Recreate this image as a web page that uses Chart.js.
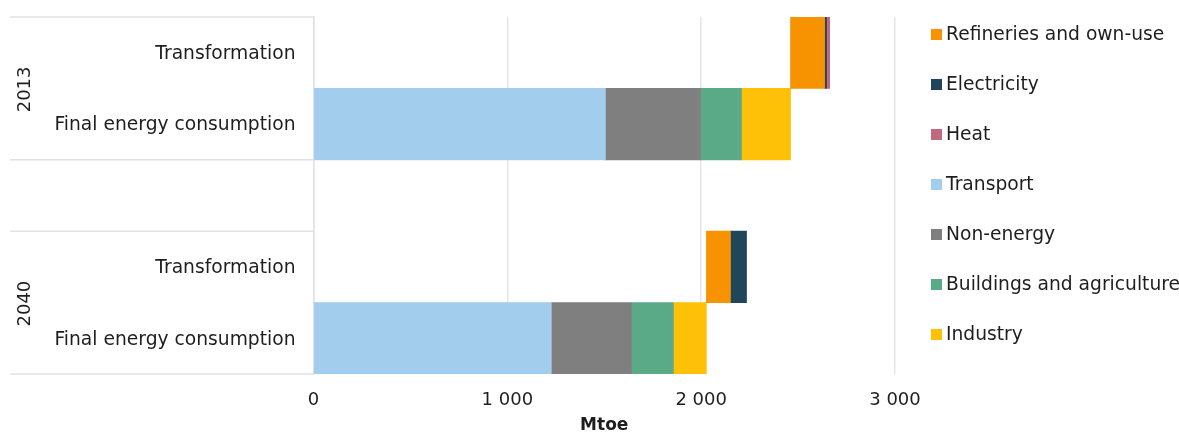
<!DOCTYPE html>
<html>
<head>
<meta charset="utf-8">
<script src="https://cdn.jsdelivr.net/npm/chart.js@4.4.1/dist/chart.umd.min.js"></script>
<style>
  html, body { margin: 0; padding: 0; background: #ffffff; }
  #wrap { position: relative; width: 1179px; height: 432px; }
</style>
</head>
<body>
<div id="wrap"><canvas id="c" width="1179" height="432"></canvas></div>
<script>
// ---- data ----
const categories = ['Transformation', 'Final energy consumption', '', 'Transformation', 'Final energy consumption'];
const groups = ['2013', '2040'];
const groupRows = [[0, 1], [3, 4]];
const xTicks = [0, 1000, 2000, 3000];

const refineries  = [176, 0, 0, 124, 0];
const electricity = [10, 0, 0, 83, 0];
const heat        = [16, 0, 0, 0, 0];
const transport   = [0, 1506, 0, 0, 1227];
const nonEnergy   = [0, 490, 0, 0, 413];
const buildings   = [0, 212, 0, 0, 217];
const industry    = [0, 253, 0, 0, 170];

// transformation bars start where final energy consumption of the same year ends
const base = categories.map((c, i) =>
  c === 'Transformation'
    ? transport[i + 1] + nonEnergy[i + 1] + buildings[i + 1] + industry[i + 1]
    : 0);

const FONT = 'DejaVu Sans, Verdana, sans-serif';
const TEXT = '#1e1e1e';
const LINE = '#e2e2e2';
const LABEL_SIZE = 18.7;

const separatorPlugin = {
  id: 'separators',
  afterDraw(chart) {
    const {ctx, chartArea} = chart;
    const y = chart.scales.y;
    const half = (y.getPixelForValue(1) - y.getPixelForValue(0)) / 2;
    ctx.save();
    ctx.strokeStyle = LINE;
    ctx.lineWidth = 1.5;
    groupRows.forEach((rows, g) => {
      const top = y.getPixelForValue(rows[0]) - half;
      const bot = y.getPixelForValue(rows[1]) + half;
      [top, bot].forEach(py => {
        ctx.beginPath();
        ctx.moveTo(10, py);
        ctx.lineTo(chartArea.left, py);
        ctx.stroke();
      });
      ctx.save();
      ctx.translate(25, (top + bot) / 2 + 1);
      ctx.rotate(-Math.PI / 2);
      ctx.fillStyle = TEXT;
      ctx.font = '18px ' + FONT;
      ctx.textAlign = 'center';
      ctx.textBaseline = 'middle';
      ctx.fillText(groups[g], 0, 0);
      ctx.restore();
    });
    ctx.restore();
  }
};

const legendPlugin = {
  id: 'sideLegend',
  afterDraw(chart) {
    const {ctx} = chart;
    ctx.save();
    ctx.font = LABEL_SIZE + 'px ' + FONT;
    ctx.textBaseline = 'middle';
    ctx.textAlign = 'left';
    let i = 0;
    chart.data.datasets.forEach(ds => {
      if (!ds.inLegend) return;
      const yc = 35 + 50 * i;
      ctx.fillStyle = ds.backgroundColor;
      ctx.fillRect(931, yc - 6, 11, 11);
      ctx.fillStyle = TEXT;
      ctx.fillText(ds.label, 946, yc);
      i++;
    });
    ctx.restore();
  }
};

const mk = (label, data, color, inLegend = true) => ({
  label,
  data: data.map(v => (v === 0 ? null : v)),
  backgroundColor: color, borderWidth: 0, inLegend,
  barPercentage: 1, categoryPercentage: 1
});

new Chart(document.getElementById('c'), {
  type: 'bar',
  data: {
    labels: categories,
    datasets: [
      mk('base', base, 'rgba(0,0,0,0)', false),
      mk('Refineries and own-use', refineries, '#F79200'),
      mk('Electricity', electricity, '#21455B'),
      mk('Heat', heat, '#C0697F'),
      mk('Transport', transport, '#A3CDEC'),
      mk('Non-energy', nonEnergy, '#7F7F7F'),
      mk('Buildings and agriculture', buildings, '#5BAA87'),
      mk('Industry', industry, '#FEC107')
    ]
  },
  options: {
    indexAxis: 'y',
    responsive: false,
    animation: false,
    layout: { padding: { top: 17, right: 284, left: 0, bottom: 0 } },
    plugins: { legend: { display: false }, tooltip: { enabled: false } },
    scales: {
      x: {
        stacked: true,
        min: 0, max: 3000,
        afterBuildTicks(scale) { scale.ticks = xTicks.map(v => ({value: v})); },
        afterFit(scale) { scale.height = 58; scale.paddingLeft = 0; scale.paddingRight = 0; },
        grid: { color: '#e6e6e6', lineWidth: 1.5, drawTicks: false },
        border: { display: false },
        ticks: {
          padding: 16,
          color: TEXT,
          font: { family: FONT, size: 18 },
          callback: v => String(v).replace(/\B(?=(\d{3})+(?!\d))/g, ' ')
        },
        title: {
          display: true, text: 'Mtoe', color: TEXT, padding: 0,
          font: { family: FONT, size: 17, weight: 'bold', lineHeight: 0.8 }
        }
      },
      y: {
        stacked: true,
        afterFit(scale) { scale.width = 313.5; scale.paddingTop = 0; scale.paddingBottom = 0; },
        grid: { display: false, drawTicks: false },
        border: { display: true, color: LINE, width: 1.5 },
        ticks: { padding: 18, labelOffset: 1.5, color: TEXT, font: { family: FONT, size: LABEL_SIZE } }
      }
    }
  },
  plugins: [separatorPlugin, legendPlugin]
});
</script>
</body>
</html>
